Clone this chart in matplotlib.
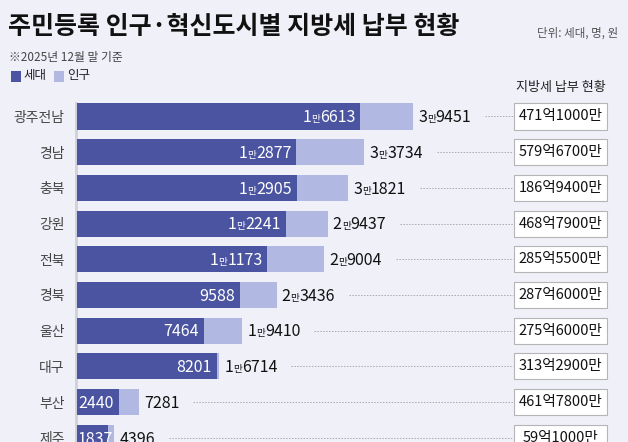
import matplotlib

matplotlib.use("Agg")
import matplotlib.pyplot as plt
from matplotlib import transforms
from matplotlib.lines import Line2D
from matplotlib.patches import Rectangle

regions = ["광주전남", "경남", "충북", "강원", "전북", "경북", "울산", "대구", "부산", "제주"]
households = [16613, 12877, 12905, 12241, 11173, 9588, 7464, 8201, 2440, 1837]
population = [39451, 33734, 31821, 29437, 29004, 23436, 19410, 16714, 7281, 4396]
# 지방세 납부액, 단위: 만원
local_tax = [4711000, 5796700, 1869400, 4687900, 2855500, 2876000, 2756000, 3132900, 4617800, 591000]

BG = "#eff0f8"
DARK = "#4a54a0"
LIGHT = "#b1b8e1"

W, H = 628, 442
AX_LEFT, AX_RIGHT, AX_TOP = 77, 607, 98
BOX_LEFT, BOX_RIGHT = 514, 607
BAR_H = 0.73

plt.rcParams["font.family"] = ["Noto Sans CJK KR", "DejaVu Sans"]


def fx(px):
    return px / W


def fy(py):
    return 1 - py / H


def ax_frac(px):
    return (px - AX_LEFT) / (AX_RIGHT - AX_LEFT)


def man_parts(value):
    if value >= 10000:
        return [(str(value // 10000), 1.0), ("만", 0.6), (f"{value % 10000:04d}", 1.0)]
    return [(str(value), 1.0)]


def tax_text(value):
    return f"{value // 10000}억{value % 10000}만"


def put_number(fig, axis, x, y, value, align, color, size, pad, min_px=None):
    renderer = fig.canvas.get_renderer()
    texts, widths = [], []
    for s, k in man_parts(value):
        t = axis.text(x, y, s, fontsize=size * k, color=color, ha="left", va="baseline")
        texts.append(t)
        widths.append(t.get_window_extent(renderer).width)
    total = sum(widths)
    x_px = axis.transData.transform((x, y))[0]
    start = x_px - pad - total if align == "right" else x_px + pad
    if min_px is not None:
        start = max(start, min_px)
    off = start - x_px
    dy = -0.36 * size * fig.dpi / 72
    for t, w in zip(texts, widths):
        t.set_transform(transforms.offset_copy(axis.transData, fig=fig, x=off, y=dy, units="dots"))
        off += w
    return start + total


fig = plt.figure(figsize=(W / 100, H / 100), dpi=100, facecolor=BG)
ax = fig.add_axes([fx(AX_LEFT), 0, fx(AX_RIGHT) - fx(AX_LEFT), (H - AX_TOP) / H])
ax.set_facecolor(BG)

rows = list(range(len(regions)))
pop_max = (AX_RIGHT - AX_LEFT) / 0.00852
ax.set_xlim(0, pop_max)
ax.set_ylim(9.118, -0.518)
ax.barh(rows, population, height=BAR_H, color=LIGHT, zorder=1)

ax2 = ax.twiny()
ax2.set_xlim(0, pop_max / 2)
ax2.barh(rows, households, height=BAR_H, color=DARK, zorder=1)

for a in (ax, ax2):
    for side in ("top", "right", "bottom", "left"):
        a.spines[side].set_visible(False)
    a.set_xticks([])
ax.spines["left"].set_visible(True)
ax.spines["left"].set_color("#cfd0da")
ax.spines["left"].set_linewidth(2)
ax.spines["left"].set_position(("outward", 1))
ax.spines["left"].set_bounds(-BAR_H / 2, 9.118)

ax.set_yticks(rows)
ax.set_yticklabels(regions, fontsize=10, color="#444444")
ax.tick_params(axis="y", length=0, pad=8)

ytrans = ax.get_yaxis_transform()
for i in rows:
    put_number(fig, ax2, households[i], i, households[i], "right", "white", 11.5, 5,
               min_px=AX_LEFT + 1)
    end_px = put_number(fig, ax, population[i], i, population[i], "left", "#111111", 11.5, 5)
    ax.add_line(Line2D([ax_frac(end_px + 14), ax_frac(BOX_LEFT - 1)], [i, i],
                       transform=ytrans, color="#aaaaaa", lw=0.7,
                       linestyle=(0, (1.5, 1.5)), clip_on=False))
    ax.add_patch(Rectangle((ax_frac(BOX_LEFT), i - BAR_H / 2),
                           ax_frac(BOX_RIGHT) - ax_frac(BOX_LEFT), BAR_H,
                           transform=ytrans, facecolor="white", edgecolor="#b5b5b5",
                           lw=0.8, clip_on=False, zorder=3))
    ax.text(ax_frac((BOX_LEFT + BOX_RIGHT) / 2), i, tax_text(local_tax[i]),
            transform=ytrans, ha="center", va="center", fontsize=10.5,
            color="#111111", zorder=4, clip_on=False)

fig.text(fx(8), fy(27), "주민등록 인구·혁신도시별 지방세 납부 현황",
         fontsize=18, fontweight="bold", color="#111111", va="center")
fig.text(fx(618), fy(33), "단위: 세대, 명, 원", fontsize=8.3, color="#555555",
         ha="right", va="center")
fig.text(fx(9), fy(57), "※2025년 12월 말 기준", fontsize=8.5, color="#444444", va="center")

fig.add_artist(Rectangle((fx(11), fy(82)), fx(10), 11 / H, transform=fig.transFigure,
                         facecolor=DARK, edgecolor="none"))
fig.text(fx(23), fy(76), "세대", fontsize=9, color="#222222", va="center")
fig.add_artist(Rectangle((fx(54), fy(82)), fx(10), 11 / H, transform=fig.transFigure,
                         facecolor=LIGHT, edgecolor="none"))
fig.text(fx(67), fy(76), "인구", fontsize=9, color="#222222", va="center")

fig.text(fx((BOX_LEFT + BOX_RIGHT) / 2), fy(88), "지방세 납부 현황", fontsize=9.4,
         color="#222222", ha="center", va="center")

fig.savefig("out.png", dpi=100, facecolor=BG)
